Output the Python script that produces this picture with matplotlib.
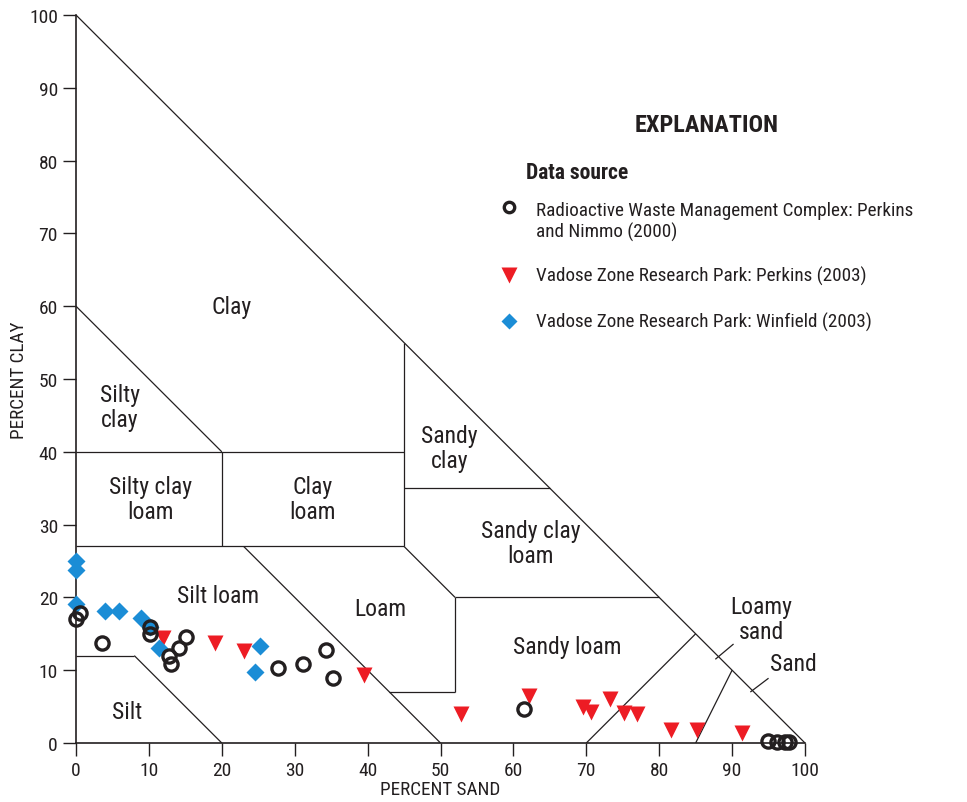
import matplotlib
matplotlib.use("Agg")
import matplotlib.pyplot as plt

plt.rcParams["font.family"] = ["Roboto Condensed", "PT Sans Narrow", "IBM Plex Sans Condensed",
                               "DejaVu Sans"]

# ---------------------------------------------------------------- data
# Radioactive Waste Management Complex: Perkins and Nimmo (2000)
rwmc_sand = [0.0, 0.5, 3.6, 10.2, 10.1, 15.1, 14.1, 12.7, 13.0, 27.7, 31.2, 34.3, 35.3,
             61.5, 94.9, 96.2, 97.2, 97.8]
rwmc_clay = [17.0, 17.8, 13.8, 16.0, 15.0, 14.6, 13.1, 12.0, 10.8, 10.3, 10.9, 12.8, 8.9,
             4.7, 0.3, 0.2, 0.2, 0.2]

# Vadose Zone Research Park: Perkins (2003)
vzp_sand = [11.9, 19.1, 23.1, 39.5, 52.8, 62.2, 69.6, 70.7, 73.3, 75.2, 77.0, 81.6, 85.2, 91.4]
vzp_clay = [14.4, 13.8, 12.7, 9.3, 4.0, 6.5, 5.0, 4.3, 6.0, 4.1, 4.0, 1.8, 1.8, 1.4]

# Vadose Zone Research Park: Winfield (2003)
vzw_sand = [0.0, 0.0, 0.0, 4.0, 5.9, 8.9, 10.2, 11.4, 25.2, 24.5]
vzw_clay = [25.0, 23.7, 19.1, 18.2, 18.2, 17.2, 15.9, 13.0, 13.3, 9.8]

# USDA texture-class boundaries in (sand, clay) space
BOUNDS = [
    [(0, 100), (100, 0)],
    [(0, 60), (20, 40)],
    [(0, 40), (45, 40)],
    [(45, 55), (45, 27)],
    [(20, 40), (20, 27)],
    [(0, 27), (45, 27)],
    [(45, 35), (65, 35)],
    [(23, 27), (50, 0)],
    [(45, 27), (52, 20)],
    [(52, 20), (80, 20)],
    [(52, 20), (52, 7)],
    [(43, 7), (52, 7)],
    [(0, 12), (8, 12)],
    [(8, 12), (20, 0)],
    [(70, 0), (85, 15)],
    [(85, 0), (90, 10)],
    [(87.7, 11.5), (90.2, 13.6)],
    [(92.5, 7.0), (95.0, 8.9)],
]

LABELS = [
    ("Clay", 21.3, 60.0),
    ("Silty\nclay", 6.0, 46.2),
    ("Silty clay\nloam", 10.2, 33.5),
    ("Clay\nloam", 32.5, 33.5),
    ("Sandy\nclay", 51.2, 40.5),
    ("Sandy clay\nloam", 62.4, 27.5),
    ("Silt loam", 19.5, 20.3),
    ("Loam", 41.8, 18.5),
    ("Sandy loam", 67.4, 13.2),
    ("Loamy\nsand", 94.0, 17.0),
    ("Sand", 98.4, 10.9),
    ("Silt", 7.0, 4.3),
]

RED = "#ED1C24"
BLUE = "#1B8DD6"
DARK = "#231F20"

# ---------------------------------------------------------------- figure
fig = plt.figure(figsize=(9.67, 8.03), dpi=100)
ax = fig.add_axes([76 / 967, 59 / 803, 729 / 967, 728 / 803])
ax.set_xlim(0, 100)
ax.set_ylim(0, 100)

for (x0, y0), (x1, y1) in BOUNDS:
    ax.plot([x0, x1], [y0, y1], color=DARK, lw=0.9, solid_capstyle="butt")

for txt, x, y in LABELS:
    ax.text(x, y, txt, ha="center", va="center", fontsize=17, color=DARK,
            linespacing=1.1)

ax.plot(rwmc_sand, rwmc_clay, "o", ms=9.5, mfc="none", mec=DARK, mew=2.4,
        clip_on=False, zorder=5)
ax.plot(vzp_sand, vzp_clay, "v", ms=11, color=RED, mec="none", clip_on=False, zorder=4)
ax.plot(vzw_sand, vzw_clay, "D", ms=9, color=BLUE, mec="none", clip_on=False, zorder=4)

ax.spines["top"].set_visible(False)
ax.spines["right"].set_visible(False)
for s in ("left", "bottom"):
    ax.spines[s].set_linewidth(1.2)
    ax.spines[s].set_color(DARK)
ax.set_xticks(range(0, 101, 10))
ax.set_yticks(range(0, 101, 10))
ax.tick_params(direction="out", length=9.5, width=1.0, colors=DARK,
               labelsize=14, pad=3.5)
ax.set_xlabel("PERCENT SAND", fontsize=13.8, color=DARK, labelpad=1)
ax.set_ylabel("PERCENT CLAY", fontsize=13.8, color=DARK, labelpad=1)

# ---------------------------------------------------------------- explanation
def fx(px):
    return px / 967


def fy(py):
    return 1 - py / 803


fig.text(fx(707), fy(125), "EXPLANATION", ha="center", va="center",
         fontsize=17.5, fontweight="bold", color=DARK)
fig.text(fx(526), fy(173), "Data source", ha="left", va="center",
         fontsize=15.5, fontweight="bold", color=DARK)

leg = fig.add_axes([0, 0, 1, 1], facecolor="none")
leg.set_xlim(0, 967)
leg.set_ylim(803, 0)
leg.axis("off")
leg.plot([509], [208], "o", ms=7.5, mfc="none", mec=DARK, mew=2.4)
leg.plot([509], [276], "v", ms=11, color=RED, mec="none")
leg.plot([509], [322], "D", ms=8, color=BLUE, mec="none")

ENTRY_FS = 13.8
fig.text(fx(536), fy(222), "Radioactive Waste Management Complex: Perkins\nand Nimmo (2000)",
         ha="left", va="center", fontsize=ENTRY_FS, color=DARK, linespacing=1.25)
fig.text(fx(536), fy(276), "Vadose Zone Research Park: Perkins (2003)",
         ha="left", va="center", fontsize=ENTRY_FS, color=DARK)
fig.text(fx(536), fy(322), "Vadose Zone Research Park: Winfield (2003)",
         ha="left", va="center", fontsize=ENTRY_FS, color=DARK)

fig.savefig("out.png", dpi=100)
